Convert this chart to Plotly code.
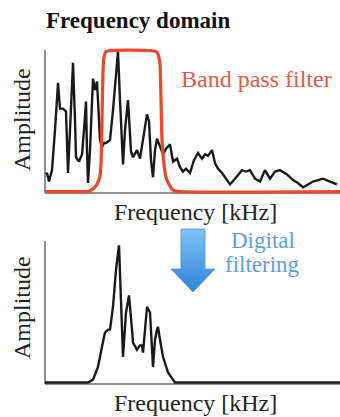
import plotly.graph_objects as go

# ---------------- data (frequency in arbitrary units, amplitude normalised) ----------------
spec_freq = [1, 2, 4, 7, 10, 13, 15, 18, 21, 23, 25, 28, 30, 31, 34, 37, 39, 41, 42, 43,
             45, 48, 50, 52, 54, 55, 57, 59, 61, 63, 65, 68, 71, 73, 75, 78, 80, 83, 85, 86,
             88, 90, 92, 95, 98, 102, 104, 106, 108, 110, 112, 115, 118, 121, 125, 128, 132, 135, 138, 141,
             145, 149, 153, 157, 160, 163, 167, 170, 173, 177, 182, 185, 190, 197, 201, 205, 210, 215, 220, 225,
             230, 235, 242, 248, 253, 258, 263, 268, 273, 278, 285, 292]
spec_amp = [0.13, 0.14, 0.08, 0.16, 0.44, 0.77, 0.59, 0.59, 0.57, 0.14,
            0.44, 0.91, 0.51, 0.25, 0.22, 0.27, 0.44, 0.64, 0.30, 0.07,
            0.30, 0.80, 0.72, 0.78, 0.51, 0.37, 0.32, 0.35, 0.35, 0.36,
            0.37, 0.58, 0.86, 0.99, 0.65, 0.20, 0.44, 0.65, 0.41, 0.29,
            0.25, 0.28, 0.30, 0.24, 0.37, 0.55, 0.50, 0.23, 0.11, 0.30,
            0.38, 0.32, 0.27, 0.31, 0.34, 0.22, 0.24, 0.18, 0.15, 0.17,
            0.14, 0.23, 0.28, 0.24, 0.27, 0.26, 0.30, 0.21, 0.17, 0.14,
            0.09, 0.06, 0.10, 0.16, 0.15, 0.16, 0.10, 0.08, 0.16, 0.10,
            0.15, 0.16, 0.13, 0.09, 0.07, 0.04, 0.06, 0.08, 0.09, 0.10,
            0.08, 0.06]

filter_freq = [0, 35, 43, 48, 52, 55, 56, 57, 58, 59, 61, 111, 113, 115, 116, 117, 119, 121, 124, 128, 135, 295]
filter_amp = [0.01, 0.01, 0.01, 0.03, 0.06, 0.12, 0.20, 0.51, 0.85, 0.95, 0.99,
              0.99, 0.97, 0.90, 0.65, 0.37, 0.20, 0.11, 0.06, 0.02, 0.01, 0.01]

filt_freq = [0, 35, 43, 48, 53, 57, 60, 63, 65, 68, 71, 74, 76, 78, 81, 84, 87, 88, 92, 95,
             97, 98, 102, 105, 108, 110, 112, 113, 115, 118, 123, 130, 135, 295]
filt_amp = [0.01, 0.01, 0.01, 0.03, 0.12, 0.26, 0.36, 0.38, 0.38, 0.54,
            0.80, 0.97, 0.61, 0.19, 0.50, 0.62, 0.38, 0.29, 0.24, 0.27,
            0.27, 0.22, 0.54, 0.50, 0.12, 0.31, 0.38, 0.40, 0.31, 0.19,
            0.08, 0.01, 0.01, 0.01]

title_text = "Frequency domain"
x_label = "Frequency [kHz]"
y_label = "Amplitude"
filter_label = "Band pass filter"
arrow_label = ["Digital", "filtering"]

# ---------------- figure ----------------
W, H = 340, 417
SERIF = "Liberation Serif, Times New Roman, serif"
BLACK = "#1a1a1a"
RED = "#f0462a"
AXIS = "#6b6b6b"


def py(p):  # pixel row -> paper y
    return 1 - p / H


def px(p):  # pixel col -> paper x
    return p / W


fig = go.Figure()

# top panel
fig.add_trace(go.Scatter(x=spec_freq, y=spec_amp, mode="lines",
                         line=dict(color=BLACK, width=2.4), xaxis="x", yaxis="y"))
fig.add_trace(go.Scatter(x=filter_freq, y=filter_amp, mode="lines",
                         line=dict(color=RED, width=3.2, shape="spline", smoothing=0.5),
                         xaxis="x", yaxis="y"))
# bottom panel
fig.add_trace(go.Scatter(x=filt_freq, y=filt_amp, mode="lines",
                         line=dict(color=BLACK, width=2.4), xaxis="x2", yaxis="y2"))

# arrow on an overlay pixel axis
ax = [181, 205, 205, 215, 193, 171, 181, 181]
ay = [229, 229, 269, 269, 292, 269, 269, 229]
fig.add_trace(go.Scatter(x=ax, y=ay, mode="lines", fill="toself",
                         line=dict(color="#4a98e4", width=0.8),
                         fillgradient=dict(type="vertical",
                                           colorscale=[[0, "#2f82d9"], [1, "#7fc4f6"]]),
                         xaxis="x3", yaxis="y3"))

XR = [-5, 295]
YR = [-0.05, 1.05]
top_dom = [py(193 + 0.05 * 143), py(193 - 143 - 0.05 * 143)]
bot_dom = [py(384 + 0.05 * 143), py(384 - 143 - 0.05 * 143)]
hidden = dict(showgrid=False, zeroline=False, showticklabels=False, ticks="", showline=False)

fig.update_layout(
    width=W, height=H, margin=dict(l=0, r=0, t=0, b=0),
    paper_bgcolor="white", plot_bgcolor="rgba(0,0,0,0)", showlegend=False,
    xaxis=dict(domain=[40 / W, 1], range=XR, anchor="y", **hidden),
    yaxis=dict(domain=top_dom, range=YR, anchor="x", **hidden),
    xaxis2=dict(domain=[40 / W, 1], range=XR, anchor="y2", **hidden),
    yaxis2=dict(domain=bot_dom, range=YR, anchor="x2", **hidden),
    xaxis3=dict(domain=[0, 1], range=[0, W], anchor="y3", **hidden),
    yaxis3=dict(domain=[0, 1], range=[H, 0], anchor="x3", **hidden),
)

# axis lines
for xr, yr in (("x", "y"), ("x2", "y2")):
    fig.add_shape(type="line", xref=xr, yref=yr, x0=0, x1=0, y0=0, y1=1.0,
                  line=dict(color=AXIS, width=1.5), layer="below")
    fig.add_shape(type="line", xref=xr, yref=yr, x0=0, x1=XR[1], y0=0, y1=0,
                  line=dict(color=AXIS, width=1.5), layer="below")

ann = []
ann.append(dict(text=f"<b>{title_text}</b>", x=px(44), y=py(20), xanchor="left", yanchor="middle",
                font=dict(family=SERIF, size=23, color="#111111")))
for yc in (212, 403):
    ann.append(dict(text=x_label, x=px(196), y=py(yc), xanchor="center", yanchor="middle",
                    font=dict(family=SERIF, size=24, color="#222222")))
for yc in (120, 308):
    ann.append(dict(text=y_label, x=px(22), y=py(yc), xanchor="center", yanchor="middle",
                    textangle=-90, font=dict(family=SERIF, size=24, color="#222222")))
ann.append(dict(text=filter_label, x=px(179), y=py(79), xanchor="left", yanchor="middle",
                font=dict(family=SERIF, size=24, color="#e35a48")))
ann.append(dict(text=arrow_label[0], x=px(263), y=py(240), xanchor="center", yanchor="middle",
                font=dict(family=SERIF, size=23, color="#5b9ddc")))
ann.append(dict(text=arrow_label[1], x=px(262), y=py(264), xanchor="center", yanchor="middle",
                font=dict(family=SERIF, size=23, color="#5b9ddc")))
for a in ann:
    a.update(xref="paper", yref="paper", showarrow=False)
fig.update_layout(annotations=ann)

fig.write_html("out.html", config={"displayModeBar": False, "staticPlot": True},
               post_script="document.body.style.margin='0';document.body.style.overflow='hidden';")
